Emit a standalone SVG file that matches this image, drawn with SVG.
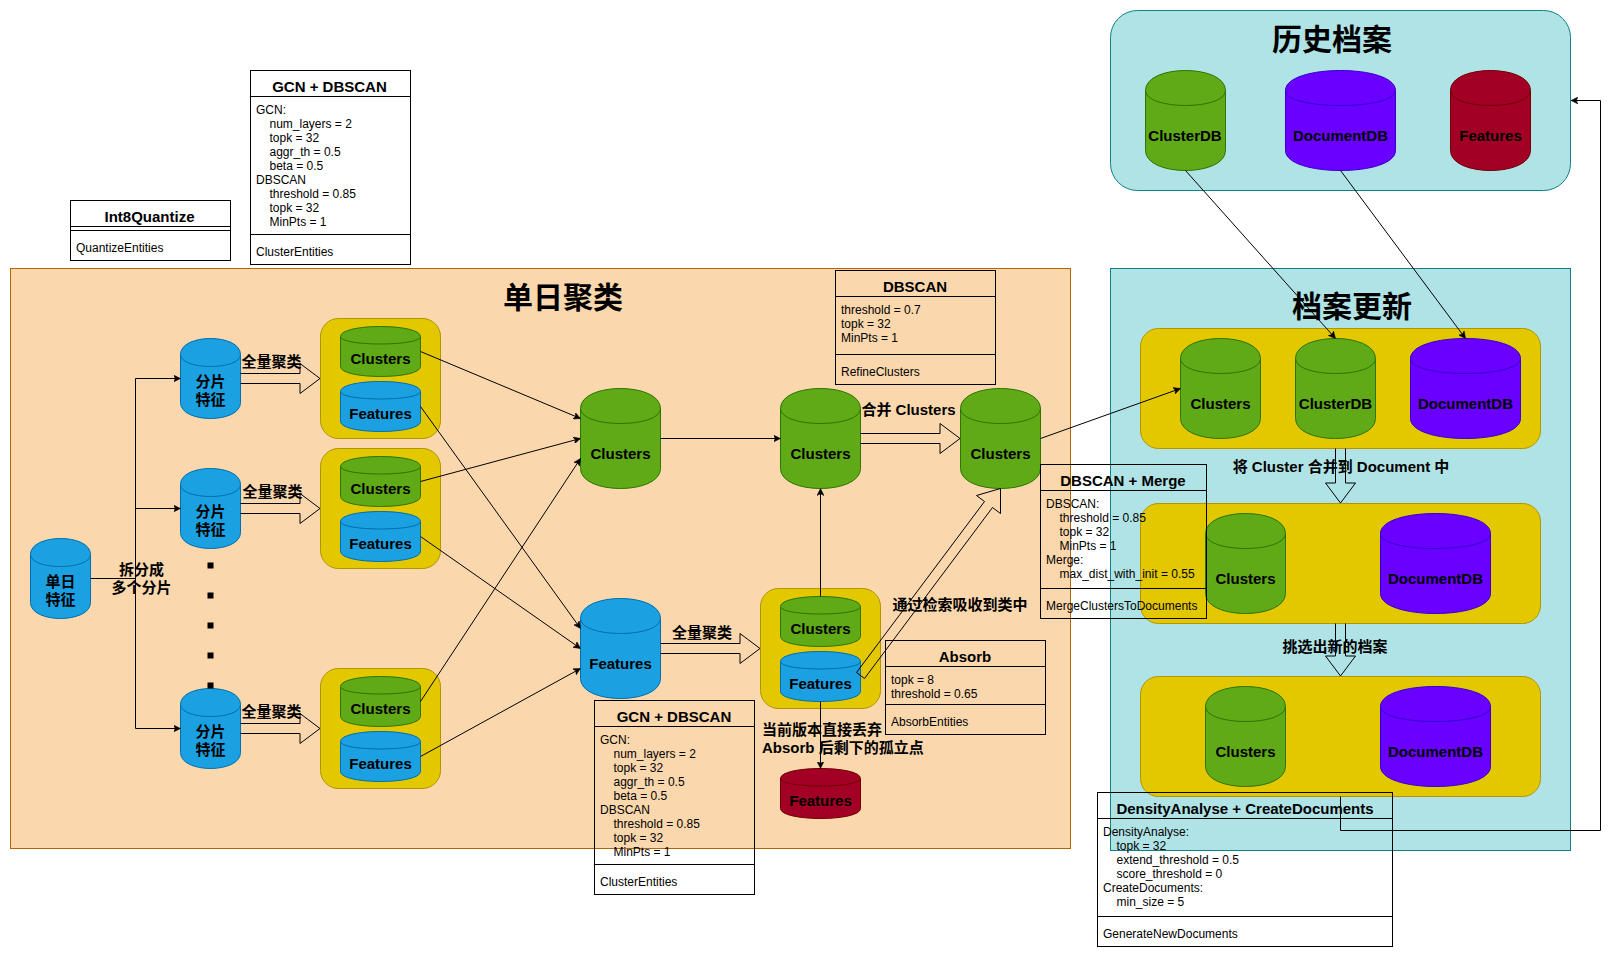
<svg xmlns="http://www.w3.org/2000/svg" width="1619" height="960" viewBox="0 0 1619 960">
<style>
text{font-family:"Liberation Sans","Noto Sans CJK SC",sans-serif;fill:#000}
.b{font-size:15px;font-weight:bold}
.m{text-anchor:middle}
.t{font-size:30px;font-weight:bold;text-anchor:middle}
.r{font-size:12px}
.blue{fill:#1ba1e2;stroke:#006eaf}
.green{fill:#60a917;stroke:#2d7600}
.purple{fill:#6a00ff;stroke:#3700cc}
.red{fill:#a20025;stroke:#6f0000}
.yellow{fill:#e3c800;stroke:#b09500}
.peach{fill:#fad7ac;stroke:#b46504}
.teal{fill:#b0e3e6;stroke:#0e8088}
.line{fill:none;stroke:#000;marker-end:url(#arrow)}
.elbow{fill:none;stroke:#000}
.block{fill:none;stroke:#000}
.box{fill:none;stroke:#000}
</style>
<defs>
<marker id="arrow" viewBox="0 0 7 7" refX="7" refY="3.5" markerWidth="7" markerHeight="7" orient="auto" markerUnits="userSpaceOnUse"><path d="M0 0L7 3.5L0 7L1.75 3.5Z" fill="#000" stroke="#000" stroke-width="0.5"/></marker>
<path id="c80x50" d="M0 10C0 -3.33 80 -3.33 80 10V40C80 53.33 0 53.33 0 40ZM80 10C80 20 0 20 0 10"/>
<path id="c60x80" d="M0 16C0 -5.33 60 -5.33 60 16V64C60 85.33 0 85.33 0 64ZM60 16C60 32 0 32 0 16"/>
<path id="c80x100" d="M0 20C0 -6.67 80 -6.67 80 20V80C80 106.67 0 106.67 0 80ZM80 20C80 40 0 40 0 20"/>
<path id="c110x100" d="M0 20C0 -6.67 110 -6.67 110 20V80C110 106.67 0 106.67 0 80ZM110 20C110 40 0 40 0 20"/>
</defs>

<g id="panel-daily"><rect class="peach" x="10.5" y="268.5" width="1060" height="580"/><text class="t" x="563" y="308">单日聚类</text></g>
<g id="panel-history"><rect class="teal" x="1110.5" y="10.5" width="460" height="180" rx="27" ry="27"/><text class="t" x="1332" y="49.5">历史档案</text></g>
<g id="panel-update"><rect class="teal" x="1110.5" y="268.5" width="460" height="582"/><text class="t" x="1352" y="317">档案更新</text></g>

<g id="group-a"><rect class="yellow" x="320.5" y="318.5" width="120" height="120" rx="18"/></g>
<g id="group-b"><rect class="yellow" x="320.5" y="448.5" width="120" height="120" rx="18"/></g>
<g id="group-c"><rect class="yellow" x="320.5" y="668.5" width="120" height="120" rx="18"/></g>
<g id="group-d"><rect class="yellow" x="760.5" y="588.5" width="120" height="120" rx="18"/></g>
<g id="group-u1"><rect class="yellow" x="1140.5" y="328.5" width="400" height="120" rx="18"/></g>
<g id="group-u2"><rect class="yellow" x="1140.5" y="503.5" width="400" height="120" rx="18"/></g>
<g id="group-u3"><rect class="yellow" x="1140.5" y="676.5" width="400" height="120" rx="18"/></g>

<g id="daily-feature"><use href="#c60x80" class="blue" x="30.5" y="538.5"/><text class="b m" x="60.5" y="587">单日</text><text class="b m" x="60.5" y="605">特征</text></g>
<g id="shard-1"><use href="#c60x80" class="blue" x="180.5" y="338.5"/><text class="b m" x="210.5" y="387">分片</text><text class="b m" x="210.5" y="405">特征</text></g>
<g id="shard-2"><use href="#c60x80" class="blue" x="180.5" y="468.5"/><text class="b m" x="210.5" y="517">分片</text><text class="b m" x="210.5" y="535">特征</text></g>
<g id="shard-3"><use href="#c60x80" class="blue" x="180.5" y="688.5"/><text class="b m" x="210.5" y="737">分片</text><text class="b m" x="210.5" y="755">特征</text></g>

<g id="a-clusters"><use href="#c80x50" class="green" x="340.5" y="326.5"/><text class="b m" x="380.5" y="363.5">Clusters</text></g>
<g id="a-features"><use href="#c80x50" class="blue" x="340.5" y="381.5"/><text class="b m" x="380.5" y="418.5">Features</text></g>
<g id="b-clusters"><use href="#c80x50" class="green" x="340.5" y="456.5"/><text class="b m" x="380.5" y="493.5">Clusters</text></g>
<g id="b-features"><use href="#c80x50" class="blue" x="340.5" y="511.5"/><text class="b m" x="380.5" y="548.5">Features</text></g>
<g id="c-clusters"><use href="#c80x50" class="green" x="340.5" y="676.5"/><text class="b m" x="380.5" y="713.5">Clusters</text></g>
<g id="c-features"><use href="#c80x50" class="blue" x="340.5" y="731.5"/><text class="b m" x="380.5" y="768.5">Features</text></g>

<g id="merged-clusters"><use href="#c80x100" class="green" x="580.5" y="388.5"/><text class="b m" x="620.5" y="458.5">Clusters</text></g>
<g id="merged-features"><use href="#c80x100" class="blue" x="580.5" y="598.5"/><text class="b m" x="620.5" y="668.5">Features</text></g>
<g id="refined-clusters"><use href="#c80x100" class="green" x="780.5" y="388.5"/><text class="b m" x="820.5" y="458.5">Clusters</text></g>
<g id="final-clusters"><use href="#c80x100" class="green" x="960.5" y="388.5"/><text class="b m" x="1000.5" y="458.5">Clusters</text></g>
<g id="d-clusters"><use href="#c80x50" class="green" x="780.5" y="596.5"/><text class="b m" x="820.5" y="633.5">Clusters</text></g>
<g id="d-features"><use href="#c80x50" class="blue" x="780.5" y="651.5"/><text class="b m" x="820.5" y="688.5">Features</text></g>
<g id="dropped-features"><use href="#c80x50" class="red" x="780.5" y="768.5"/><text class="b m" x="820.5" y="805.5">Features</text></g>

<g id="hist-clusterdb"><use href="#c80x100" class="green" x="1145.5" y="70.5"/><text class="b m" x="1185" y="140.5">ClusterDB</text></g>
<g id="hist-documentdb"><use href="#c110x100" class="purple" x="1285.5" y="70.5"/><text class="b m" x="1340.5" y="140.5">DocumentDB</text></g>
<g id="hist-features"><use href="#c80x100" class="red" x="1450.5" y="70.5"/><text class="b m" x="1490.5" y="140.5">Features</text></g>

<g id="u1-clusters"><use href="#c80x100" class="green" x="1180.5" y="338.5"/><text class="b m" x="1220.5" y="408.5">Clusters</text></g>
<g id="u1-clusterdb"><use href="#c80x100" class="green" x="1295.5" y="338.5"/><text class="b m" x="1335.5" y="408.5">ClusterDB</text></g>
<g id="u1-documentdb"><use href="#c110x100" class="purple" x="1410.5" y="338.5"/><text class="b m" x="1465.5" y="408.5">DocumentDB</text></g>
<g id="u2-clusters"><use href="#c80x100" class="green" x="1205.5" y="513.5"/><text class="b m" x="1245.5" y="583.5">Clusters</text></g>
<g id="u2-documentdb"><use href="#c110x100" class="purple" x="1380.5" y="513.5"/><text class="b m" x="1435.5" y="583.5">DocumentDB</text></g>
<g id="u3-clusters"><use href="#c80x100" class="green" x="1205.5" y="686.5"/><text class="b m" x="1245.5" y="756.5">Clusters</text></g>
<g id="u3-documentdb"><use href="#c110x100" class="purple" x="1380.5" y="686.5"/><text class="b m" x="1435.5" y="756.5">DocumentDB</text></g>

<g id="connectors">
<path class="elbow" d="M90.5 578.5H135.5"/>
<path class="line" d="M135.5 578.5V378.5H180.5"/>
<path class="line" d="M135.5 578.5V508.5H180.5"/>
<path class="line" d="M135.5 578.5V728.5H180.5"/>
<path fill="none" stroke="#000" stroke-width="6" stroke-dasharray="6 24" d="M210.5 562.5V688.5"/>
<path class="block" d="M240.5 373.5H300V363.5L320 378.5L300 393.5V383.5H240.5"/>
<path class="block" d="M240.5 503.5H300V493.5L320 508.5L300 523.5V513.5H240.5"/>
<path class="block" d="M240.5 723.5H300V713.5L320 728.5L300 743.5V733.5H240.5"/>
<path class="block" d="M660.5 643.5H740V633.5L760 648.5L740 663.5V653.5H660.5"/>
<path class="block" d="M860.5 433.5H940V423.5L960 438.5L940 453.5V443.5H860.5"/>
<path class="block" d="M864.5 678.5L992.5 507.5L1000.5 513.5L1000.5 488.5L976.5 495.5L984.5 501.5L856.5 672.5Z"/>
<path class="block" d="M1335.5 448.5V483H1325.5L1340.5 503L1355.5 483H1345.5V448.5"/>
<path class="block" d="M1335.5 623.5V656H1325.5L1340.5 676L1355.5 656H1345.5V623.5"/>
<path class="line" d="M420.5 351.5L580.5 418.5"/>
<path class="line" d="M420.5 406.5L580.5 628.5"/>
<path class="line" d="M420.5 481.5L580.5 438.5"/>
<path class="line" d="M420.5 536.5L580.5 648.5"/>
<path class="line" d="M420.5 701.5L580.5 458.5"/>
<path class="line" d="M420.5 756.5L580.5 668.5"/>
<path class="line" d="M660.5 438.5H780.5"/>
<path class="line" d="M820.5 596.5V488.5"/>
<path class="line" d="M820.5 701.5V768.5"/>
<path class="line" d="M1185.5 170.5L1335.5 338.5"/>
<path class="line" d="M1340.5 170.5L1465.5 338.5"/>
<path class="line" d="M1040.5 438.5L1180.5 388.5"/>
<path class="line" d="M1340.5 796.5V830.5H1600.5V100.5H1571"/>
</g>

<g id="labels">
<text class="b m" x="271.5" y="367">全量聚类</text>
<text class="b m" x="272.5" y="497">全量聚类</text>
<text class="b m" x="271.5" y="717">全量聚类</text>
<text class="b m" x="702" y="638">全量聚类</text>
<text class="b m" x="141.5" y="575">拆分成</text>
<text class="b m" x="141.5" y="593">多个分片</text>
<text class="b m" x="908.5" y="415">合并 Clusters</text>
<text class="b m" x="1341" y="472">将 Cluster 合并到 Document 中</text>
<text class="b m" x="960" y="610">通过检索吸收到类中</text>
<text class="b m" x="1335" y="652">挑选出新的档案</text>
<text class="b" x="762" y="735">当前版本直接丢弃</text>
<text class="b" x="762" y="753">Absorb 后剩下的孤立点</text>
</g>

<g id="class-int8">
<rect class="box" x="70.5" y="200.5" width="160" height="60"/><path class="box" d="M70.5 226.5H230.5M70.5 230.5H230.5"/>
<text class="b m" x="149.5" y="221.5">Int8Quantize</text>
<text class="r" x="76" y="252">QuantizeEntities</text>
</g>
<g id="class-gcn-1">
<rect class="box" x="250.5" y="70.5" width="160" height="194"/><path class="box" d="M250.5 96.5H410.5M250.5 234.5H410.5"/>
<text class="b m" x="329.5" y="91.5">GCN + DBSCAN</text>
<text class="r" x="256" y="114">GCN:</text>
<text class="r" x="269.5" y="128">num_layers = 2</text>
<text class="r" x="269.5" y="142">topk = 32</text>
<text class="r" x="269.5" y="156">aggr_th = 0.5</text>
<text class="r" x="269.5" y="170">beta = 0.5</text>
<text class="r" x="256" y="184">DBSCAN</text>
<text class="r" x="269.5" y="198">threshold = 0.85</text>
<text class="r" x="269.5" y="212">topk = 32</text>
<text class="r" x="269.5" y="226">MinPts = 1</text>
<text class="r" x="256" y="256">ClusterEntities</text>
</g>
<g id="class-dbscan">
<rect class="box" x="835.5" y="270.5" width="160" height="114"/><path class="box" d="M835.5 296.5H995.5M835.5 354.5H995.5"/>
<text class="b m" x="915" y="292">DBSCAN</text>
<text class="r" x="841" y="314">threshold = 0.7</text>
<text class="r" x="841" y="328">topk = 32</text>
<text class="r" x="841" y="342">MinPts = 1</text>
<text class="r" x="841" y="376">RefineClusters</text>
</g>
<g id="class-merge">
<rect class="box" x="1040.5" y="464.5" width="166" height="154"/><path class="box" d="M1040.5 490.5H1206.5M1040.5 588.5H1206.5"/>
<text class="b m" x="1123" y="486">DBSCAN + Merge</text>
<text class="r" x="1046" y="508">DBSCAN:</text>
<text class="r" x="1059.5" y="522">threshold = 0.85</text>
<text class="r" x="1059.5" y="536">topk = 32</text>
<text class="r" x="1059.5" y="550">MinPts = 1</text>
<text class="r" x="1046" y="564">Merge:</text>
<text class="r" x="1059.5" y="578">max_dist_with_init = 0.55</text>
<text class="r" x="1046" y="610">MergeClustersToDocuments</text>
</g>
<g id="class-absorb">
<rect class="box" x="885.5" y="640.5" width="160" height="94"/><path class="box" d="M885.5 666.5H1045.5M885.5 704.5H1045.5"/>
<text class="b m" x="965" y="662">Absorb</text>
<text class="r" x="891" y="684">topk = 8</text>
<text class="r" x="891" y="698">threshold = 0.65</text>
<text class="r" x="891" y="726">AbsorbEntities</text>
</g>
<g id="class-gcn-2">
<rect class="box" x="594.5" y="700.5" width="160" height="194"/><path class="box" d="M594.5 726.5H754.5M594.5 864.5H754.5"/>
<text class="b m" x="674" y="722">GCN + DBSCAN</text>
<text class="r" x="600" y="744">GCN:</text>
<text class="r" x="613.5" y="758">num_layers = 2</text>
<text class="r" x="613.5" y="772">topk = 32</text>
<text class="r" x="613.5" y="786">aggr_th = 0.5</text>
<text class="r" x="613.5" y="800">beta = 0.5</text>
<text class="r" x="600" y="814">DBSCAN</text>
<text class="r" x="613.5" y="828">threshold = 0.85</text>
<text class="r" x="613.5" y="842">topk = 32</text>
<text class="r" x="613.5" y="856">MinPts = 1</text>
<text class="r" x="600" y="886">ClusterEntities</text>
</g>
<g id="class-density">
<rect class="box" x="1097.5" y="792.5" width="295" height="154"/><path class="box" d="M1097.5 818.5H1392.5M1097.5 916.5H1392.5"/>
<text class="b m" x="1245" y="814">DensityAnalyse + CreateDocuments</text>
<text class="r" x="1103" y="836">DensityAnalyse:</text>
<text class="r" x="1116.5" y="850">topk = 32</text>
<text class="r" x="1116.5" y="864">extend_threshold = 0.5</text>
<text class="r" x="1116.5" y="878">score_threshold = 0</text>
<text class="r" x="1103" y="892">CreateDocuments:</text>
<text class="r" x="1116.5" y="906">min_size = 5</text>
<text class="r" x="1103" y="938">GenerateNewDocuments</text>
</g>
</svg>
